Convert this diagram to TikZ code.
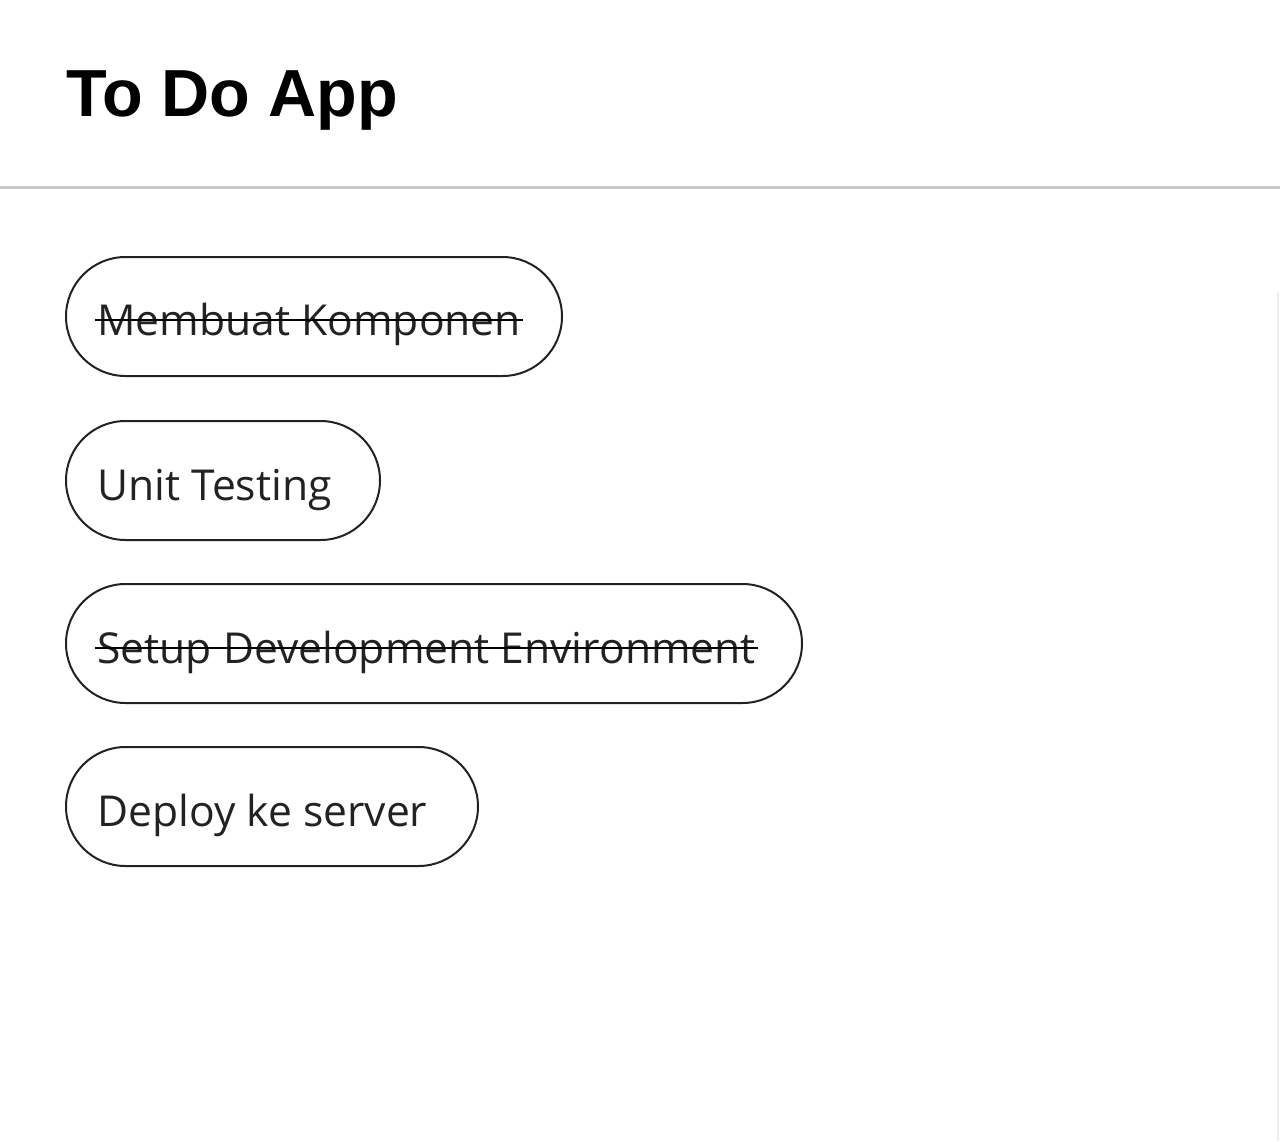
\documentclass[tikz,border=0pt]{standalone}
\usepackage{fontspec}
\setmainfont{Open Sans}
\newfontfamily\titlefont{Liberation Sans}
\usetikzlibrary{calc}
\definecolor{txt}{HTML}{222222}
\definecolor{rule}{HTML}{C8C8C8}
\definecolor{faint}{HTML}{EEEEEE}
\tikzset{
  pill/.style={draw=txt, line width=1pt, rounded corners=29.75pt, minimum height=59.5pt, inner sep=0pt},
  itemtext/.style={anchor=base west, inner sep=0pt, text=txt, font=\fontsize{21.3}{25}\selectfont},
  strike/.style={draw=black, line width=0.9pt},
}
\begin{document}
\begin{tikzpicture}[x=0.5pt,y=-0.5pt]
\useasboundingbox (0,0) rectangle (1280,1141);
\fill[white] (0,0) rectangle (1280,1141);
% title
\node[anchor=base west, inner sep=0pt, font=\titlefont\bfseries\fontsize{33.3}{38}\selectfont] (title) at (66,116) {To Do App};
% divider
\coordinate (d1) at (0,187);
\coordinate (d2) at (1280,187);
\draw[rule, line width=1.5pt] (d1) -- (d2);
% faint edge
\coordinate (e1) at (1278,292);
\coordinate (e2) at (1278,1141);
\draw[faint, line width=1pt] (e1) -- (e2);
% pills
\node[pill, minimum width=248pt] (p1) at (314,316.5) {};
\node[itemtext] (t1) at (97,335) {Membuat Komponen};
\draw[strike] ($(t1.base west)+(-2,-15)$) -- ($(t1.base east)+(2,-15)$);

\node[pill, minimum width=157pt] (p2) at (223,480.5) {};
\node[itemtext] (t2) at (97,500) {Unit Testing};

\node[pill, minimum width=368pt] (p3) at (434,643.5) {};
\node[itemtext] (t3) at (97,663) {Setup Development Environment};
\draw[strike] ($(t3.base west)+(-2,-15)$) -- ($(t3.base east)+(2,-15)$);

\node[pill, minimum width=206pt] (p4) at (272,806.5) {};
\node[itemtext] (t4) at (97,826) {Deploy ke server};
\end{tikzpicture}
\end{document}
